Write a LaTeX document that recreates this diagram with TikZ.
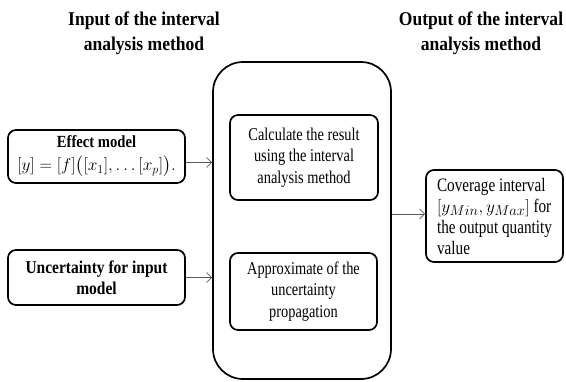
\documentclass[tikz,border=0pt]{standalone}
\usepackage{fontspec}
\usepackage{amsmath}
\setmainfont{Liberation Serif}
\newfontfamily\fbody{Liberation Serif}[FakeStretch=0.8]
\newfontfamily\fbold{Liberation Serif}[FakeStretch=0.86]
\newfontfamily\ftitle{Liberation Serif}[FakeStretch=0.9]
\usetikzlibrary{arrows.meta,calc}
\tikzset{
  box/.style={draw=black, line width=1.7pt, rounded corners=8pt, align=center, inner sep=2pt},
  bodytext/.style={font=\fbody\fontsize{18}{21.5}\selectfont},
  boldtext/.style={font=\fbold\bfseries\fontsize{18}{21.5}\selectfont},
  titletext/.style={font=\ftitle\bfseries\fontsize{19.5}{25}\selectfont, align=center},
  arr/.style={draw=black!65, line width=0.8pt, -{Straight Barb[length=5pt,width=10pt]}}
}
\begin{document}
\begin{tikzpicture}[x=1pt,y=-1pt]
\useasboundingbox (0,0) rectangle (566,381);
\node[titletext] (tin) at (144,33) {Input of the interval\\analysis method};
\node[titletext] (tout) at (481,33) {Output of the interval\\analysis method};
\node[box, rounded corners=30pt, minimum width=178pt, minimum height=317pt] (big) at (302,220.5) {};
\node[box, minimum width=177pt, minimum height=53pt, font=\fbold\bfseries\fontsize{17}{21}\selectfont] (effect) at (96.5,156.5)
  {Effect model\\[2pt]\fbody\mdseries$[y]=[f]\big([x_1],\ldots[x_p]\big).$};
\node[box, boldtext, minimum width=177pt, minimum height=55pt] (unc) at (96.5,277.5)
  {Uncertainty for input\\model};
\node[box, bodytext, minimum width=148pt, minimum height=85pt] (calc) at (304,157.5)
  {Calculate the result\\using the interval\\analysis method};
\node[box, bodytext, minimum width=147pt, minimum height=77pt] (approx) at (303.5,291.5)
  {Approximate of the\\uncertainty\\propagation};
\node[box, minimum width=137pt, minimum height=92pt, align=left,
  font=\fbody\fontsize{19}{21}\selectfont] (out) at (494.5,216)
  {Coverage interval\\$[y_{Min},y_{Max}]$ for\\the output quantity\\value};
\draw[arr] ([yshift=-6pt]effect.east) -- ([yshift=-6pt]effect.east -| big.west);
\draw[arr] (unc.east) -- (unc.east -| big.west);
\draw[arr] ([yshift=2pt]big.east |- out.west) -- ([yshift=2pt]out.west);
\end{tikzpicture}
\end{document}
